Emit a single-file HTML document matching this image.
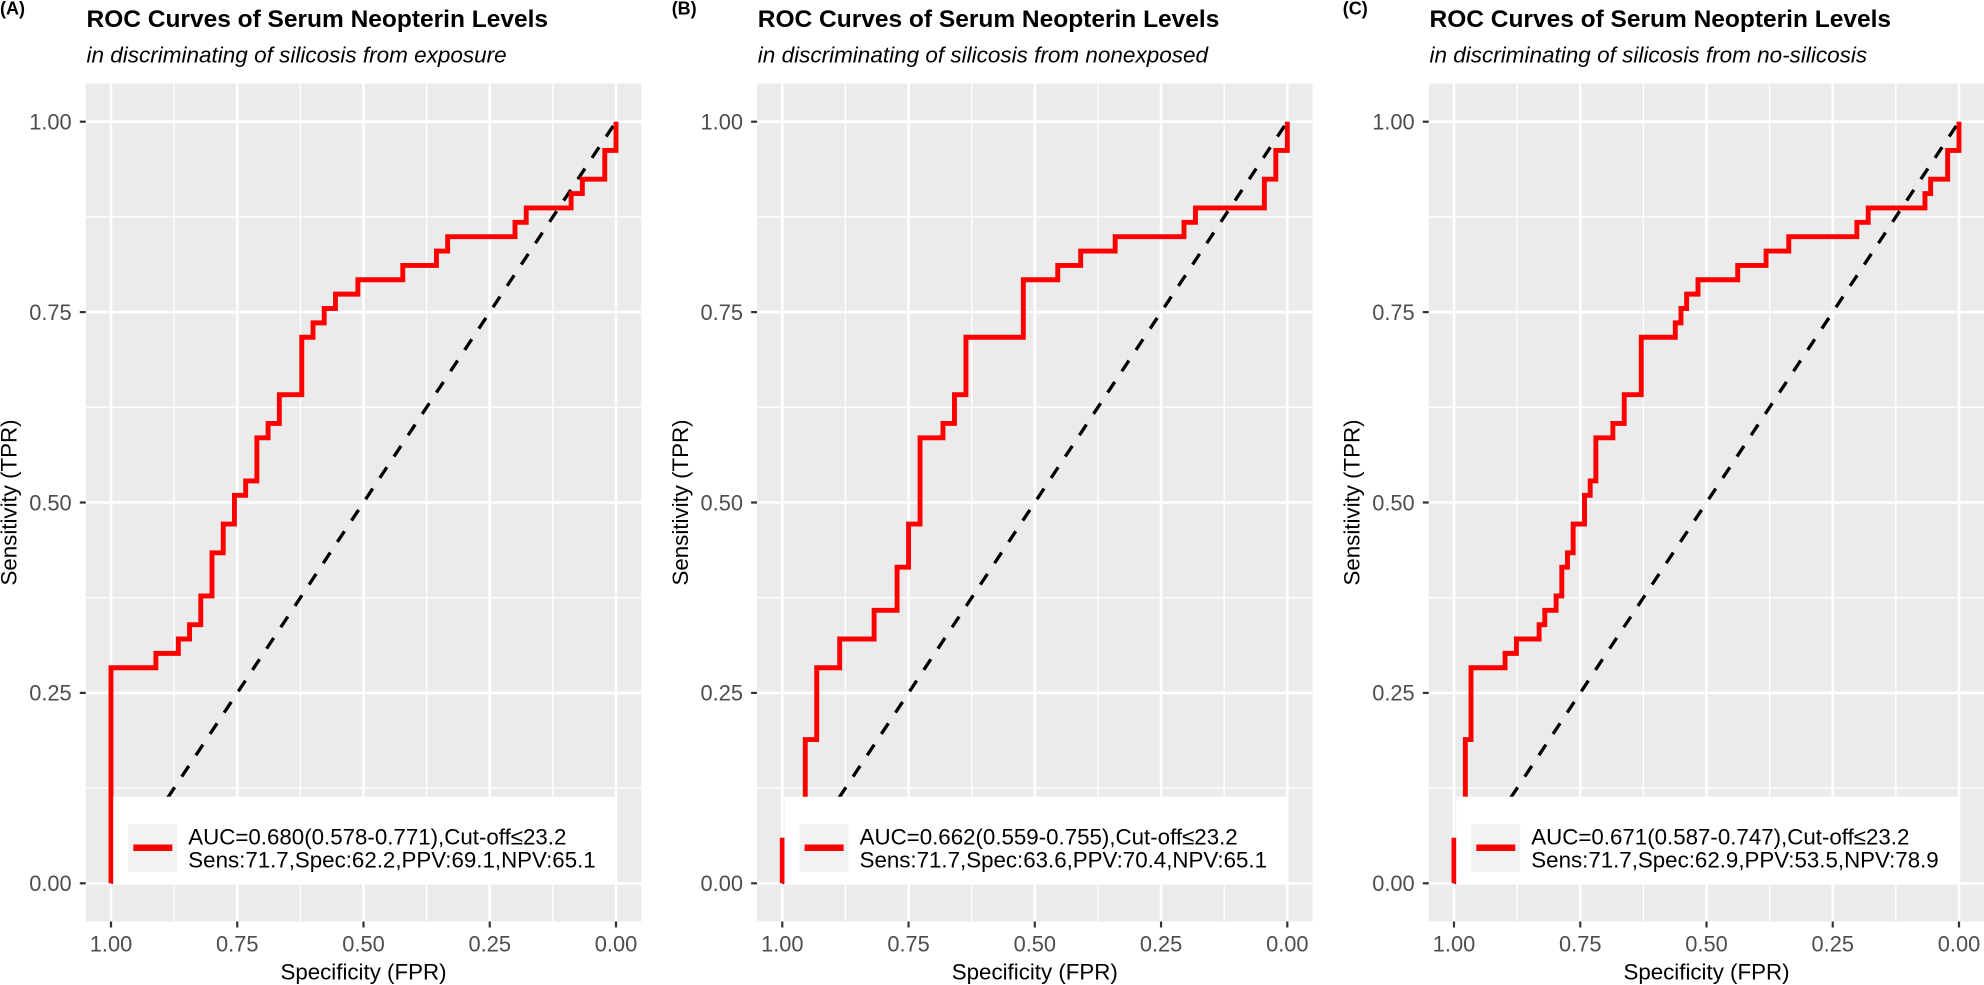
<!DOCTYPE html>
<html>
<head>
<meta charset="utf-8">
<style>
html,body{margin:0;padding:0;background:#fff;}
svg{display:block;}
text{font-family:"Liberation Sans",Arial,Helvetica,sans-serif;}
.tl{font-size:21.8px;fill:#4D4D4D;}
.at{font-size:22.3px;fill:#000;}
.ttl{font-size:24.5px;font-weight:bold;fill:#000;}
.sub{font-size:22.5px;font-style:italic;fill:#000;}
.lab{font-size:18px;font-weight:bold;fill:#000;}
.lg{font-size:22.3px;fill:#000;}
.gmaj{stroke:#fff;stroke-width:2.6;}
.gmin{stroke:#fff;stroke-width:1.4;}
.tk{stroke:#333;stroke-width:2.2;}
.roc{fill:none;stroke:#FF0000;stroke-width:4.9;stroke-linejoin:miter;}
</style>
</head>
<body>
<svg width="1984" height="985" viewBox="0 0 1984 985" xmlns="http://www.w3.org/2000/svg">
<rect width="1984" height="985" fill="#fff"/>
<defs>
  <g id="frame">
    <rect x="85.75" y="83.6" width="555.5" height="837.9" fill="#EBEBEB"/>
    <line class="gmin" x1="174.1" y1="83.6" x2="174.1" y2="921.5"/>
    <line class="gmin" x1="300.4" y1="83.6" x2="300.4" y2="921.5"/>
    <line class="gmin" x1="426.6" y1="83.6" x2="426.6" y2="921.5"/>
    <line class="gmin" x1="552.9" y1="83.6" x2="552.9" y2="921.5"/>
    <line class="gmin" x1="85.75" y1="216.9" x2="641.25" y2="216.9"/>
    <line class="gmin" x1="85.75" y1="407.3" x2="641.25" y2="407.3"/>
    <line class="gmin" x1="85.75" y1="597.7" x2="641.25" y2="597.7"/>
    <line class="gmin" x1="85.75" y1="788.1" x2="641.25" y2="788.1"/>
    <line class="gmaj" x1="111" y1="83.6" x2="111" y2="921.5"/>
    <line class="gmaj" x1="237.25" y1="83.6" x2="237.25" y2="921.5"/>
    <line class="gmaj" x1="363.5" y1="83.6" x2="363.5" y2="921.5"/>
    <line class="gmaj" x1="489.75" y1="83.6" x2="489.75" y2="921.5"/>
    <line class="gmaj" x1="616" y1="83.6" x2="616" y2="921.5"/>
    <line class="gmaj" x1="85.75" y1="121.7" x2="641.25" y2="121.7"/>
    <line class="gmaj" x1="85.75" y1="312.1" x2="641.25" y2="312.1"/>
    <line class="gmaj" x1="85.75" y1="502.5" x2="641.25" y2="502.5"/>
    <line class="gmaj" x1="85.75" y1="692.9" x2="641.25" y2="692.9"/>
    <line class="gmaj" x1="85.75" y1="883.3" x2="641.25" y2="883.3"/>
    <line x1="111" y1="883.3" x2="616" y2="121.7" stroke="#000" stroke-width="3.3" stroke-dasharray="12.8 12.8"/>
  </g>
  <g id="axes">
    <line class="tk" x1="111" y1="921.5" x2="111" y2="927.5"/>
    <line class="tk" x1="237.25" y1="921.5" x2="237.25" y2="927.5"/>
    <line class="tk" x1="363.5" y1="921.5" x2="363.5" y2="927.5"/>
    <line class="tk" x1="489.75" y1="921.5" x2="489.75" y2="927.5"/>
    <line class="tk" x1="616" y1="921.5" x2="616" y2="927.5"/>
    <line class="tk" x1="79.8" y1="121.7" x2="85.75" y2="121.7"/>
    <line class="tk" x1="79.8" y1="312.1" x2="85.75" y2="312.1"/>
    <line class="tk" x1="79.8" y1="502.5" x2="85.75" y2="502.5"/>
    <line class="tk" x1="79.8" y1="692.9" x2="85.75" y2="692.9"/>
    <line class="tk" x1="79.8" y1="883.3" x2="85.75" y2="883.3"/>
    <rect x="113.2" y="796.7" width="503.5" height="86.6" fill="#fff"/>
    <rect x="128.3" y="824" width="49" height="47.7" fill="#F2F2F2"/>
    <line x1="133.3" y1="847.7" x2="172.3" y2="847.7" stroke="#FF0000" stroke-width="6.5"/>
  </g>
</defs>

<!-- ============ Panel A ============ -->
<g transform="translate(0,0)">
  <use href="#frame"/>
  <g transform="translate(111,883.3) scale(11.2222,-14.370)">
    <path class="roc" vector-effect="non-scaling-stroke" d="M0 0 V15 H4 V16 H6 V17 H7 V18 H8 V20 H9 V23 H10 V25 H11 V27 H12 V28 H13 V31 H14 V32 H15 V34 H17 V38 H18 V39 H19 V40 H20 V41 H22 V42 H26 V43 H29 V44 H30 V45 H36 V46 H37 V47 H41 V48 H42 V49 H44 V51 H45 V53"/>
  </g>
  <use href="#axes"/>
  <text class="lg" x="188.3" y="844.3">AUC=0.680(0.578-0.771),Cut-off≤23.2</text>
  <text class="lg" x="188.3" y="867.3">Sens:71.7,Spec:62.2,PPV:69.1,NPV:65.1</text>
  <text class="tl" x="71.7" y="129.5" text-anchor="end">1.00</text>
  <text class="tl" x="71.7" y="319.9" text-anchor="end">0.75</text>
  <text class="tl" x="71.7" y="510.3" text-anchor="end">0.50</text>
  <text class="tl" x="71.7" y="700.7" text-anchor="end">0.25</text>
  <text class="tl" x="71.7" y="891.1" text-anchor="end">0.00</text>
  <text class="tl" x="111" y="951.7" text-anchor="middle">1.00</text>
  <text class="tl" x="237.25" y="951.7" text-anchor="middle">0.75</text>
  <text class="tl" x="363.5" y="951.7" text-anchor="middle">0.50</text>
  <text class="tl" x="489.75" y="951.7" text-anchor="middle">0.25</text>
  <text class="tl" x="616" y="951.7" text-anchor="middle">0.00</text>
  <text class="at" x="363.5" y="979.3" text-anchor="middle">Specificity (FPR)</text>
  <text class="at" transform="translate(16.7,502.5) rotate(-90)" text-anchor="middle">Sensitivity (TPR)</text>
  <text class="ttl" x="86.5" y="27">ROC Curves of Serum Neopterin Levels</text>
  <text class="sub" x="86.5" y="62.5">in discriminating of silicosis from exposure</text>
  <text class="lab" x="0" y="14.5">(A)</text>
</g>

<!-- ============ Panel B ============ -->
<g transform="translate(671.3,0)">
  <use href="#frame"/>
  <g transform="translate(111,883.3) scale(11.4773,-14.370)">
    <path class="roc" vector-effect="non-scaling-stroke" d="M0 0 V3 H2 V10 H3 V15 H5 V17 H8 V19 H10 V22 H11 V25 H12 V31 H14 V32 H15 V34 H16 V38 H21 V42 H24 V43 H26 V44 H29 V45 H35 V46 H36 V47 H42 V49 H43 V51 H44 V53"/>
  </g>
  <use href="#axes"/>
  <text class="lg" x="188.3" y="844.3">AUC=0.662(0.559-0.755),Cut-off≤23.2</text>
  <text class="lg" x="188.3" y="867.3">Sens:71.7,Spec:63.6,PPV:70.4,NPV:65.1</text>
  <text class="tl" x="71.7" y="129.5" text-anchor="end">1.00</text>
  <text class="tl" x="71.7" y="319.9" text-anchor="end">0.75</text>
  <text class="tl" x="71.7" y="510.3" text-anchor="end">0.50</text>
  <text class="tl" x="71.7" y="700.7" text-anchor="end">0.25</text>
  <text class="tl" x="71.7" y="891.1" text-anchor="end">0.00</text>
  <text class="tl" x="111" y="951.7" text-anchor="middle">1.00</text>
  <text class="tl" x="237.25" y="951.7" text-anchor="middle">0.75</text>
  <text class="tl" x="363.5" y="951.7" text-anchor="middle">0.50</text>
  <text class="tl" x="489.75" y="951.7" text-anchor="middle">0.25</text>
  <text class="tl" x="616" y="951.7" text-anchor="middle">0.00</text>
  <text class="at" x="363.5" y="979.3" text-anchor="middle">Specificity (FPR)</text>
  <text class="at" transform="translate(16.7,502.5) rotate(-90)" text-anchor="middle">Sensitivity (TPR)</text>
  <text class="ttl" x="86.5" y="27">ROC Curves of Serum Neopterin Levels</text>
  <text class="sub" x="86.5" y="62.5">in discriminating of silicosis from nonexposed</text>
  <text class="lab" x="0.4" y="14.5">(B)</text>
</g>

<!-- ============ Panel C ============ -->
<g transform="translate(1343,0)">
  <use href="#frame"/>
  <g transform="translate(111,883.3) scale(5.6742,-14.370)">
    <path class="roc" vector-effect="non-scaling-stroke" d="M0 0 V3 H2 V10 H3 V15 H9 V16 H11 V17 H15 V18 H16 V19 H18 V20 H19 V22 H20 V23 H21 V25 H23 V27 H24 V28 H25 V31 H28 V32 H30 V34 H33 V38 H39 V39 H40 V40 H41 V41 H43 V42 H50 V43 H55 V44 H59 V45 H71 V46 H73 V47 H83 V48 H84 V49 H87 V51 H89 V53"/>
  </g>
  <use href="#axes"/>
  <text class="lg" x="188.3" y="844.3">AUC=0.671(0.587-0.747),Cut-off≤23.2</text>
  <text class="lg" x="188.3" y="867.3">Sens:71.7,Spec:62.9,PPV:53.5,NPV:78.9</text>
  <text class="tl" x="71.7" y="129.5" text-anchor="end">1.00</text>
  <text class="tl" x="71.7" y="319.9" text-anchor="end">0.75</text>
  <text class="tl" x="71.7" y="510.3" text-anchor="end">0.50</text>
  <text class="tl" x="71.7" y="700.7" text-anchor="end">0.25</text>
  <text class="tl" x="71.7" y="891.1" text-anchor="end">0.00</text>
  <text class="tl" x="111" y="951.7" text-anchor="middle">1.00</text>
  <text class="tl" x="237.25" y="951.7" text-anchor="middle">0.75</text>
  <text class="tl" x="363.5" y="951.7" text-anchor="middle">0.50</text>
  <text class="tl" x="489.75" y="951.7" text-anchor="middle">0.25</text>
  <text class="tl" x="616" y="951.7" text-anchor="middle">0.00</text>
  <text class="at" x="363.5" y="979.3" text-anchor="middle">Specificity (FPR)</text>
  <text class="at" transform="translate(16.7,502.5) rotate(-90)" text-anchor="middle">Sensitivity (TPR)</text>
  <text class="ttl" x="86.5" y="27">ROC Curves of Serum Neopterin Levels</text>
  <text class="sub" x="86.5" y="62.5">in discriminating of silicosis from no-silicosis</text>
  <text class="lab" x="-0.3" y="14.5">(C)</text>
</g>
</svg>
</body>
</html>
